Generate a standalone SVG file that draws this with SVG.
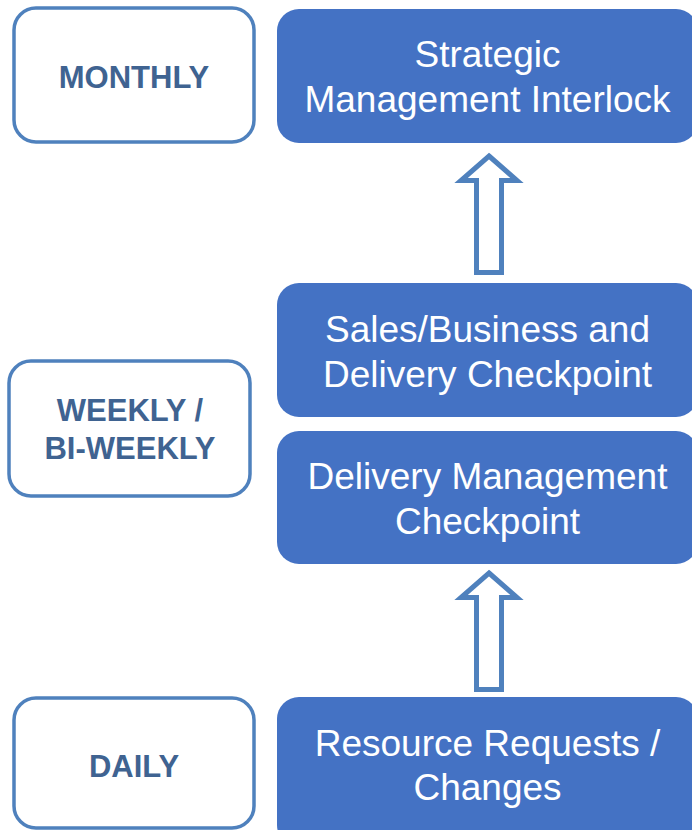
<svg xmlns="http://www.w3.org/2000/svg" width="692" height="830" viewBox="0 0 692 830">
<style>
.freq rect{fill:#ffffff;stroke:#4f81bd;stroke-width:3.5}
.freq text{font-family:"Liberation Sans",Arial,sans-serif;font-weight:bold;font-size:31px;fill:#3f6391;text-anchor:middle}
.step rect{fill:#4472c4;stroke:none}
.step text{font-family:"Liberation Sans",Arial,sans-serif;font-size:37px;fill:#ffffff;text-anchor:middle}
.arrow{fill:#ffffff;stroke:#4f81bd;stroke-width:5;stroke-linejoin:miter}
</style>
<rect width="692" height="830" fill="#ffffff"/>
<g id="monthly" class="freq">
<rect x="14" y="8" width="240" height="134" rx="22"/>
<text x="134" y="88">MONTHLY</text>
</g>
<g id="weekly" class="freq">
<rect x="9" y="361" width="241" height="135" rx="22"/>
<text x="130" y="421">WEEKLY /</text>
<text x="130" y="459">BI-WEEKLY</text>
</g>
<g id="daily" class="freq">
<rect x="14" y="698" width="240" height="130" rx="22"/>
<text x="134" y="777">DAILY</text>
</g>
<g id="strategic" class="step">
<rect x="277" y="9" width="421" height="134" rx="22"/>
<text x="487.5" y="67">Strategic</text>
<text x="487.5" y="111.5">Management Interlock</text>
</g>
<g id="sales" class="step">
<rect x="277" y="283" width="421" height="134" rx="22"/>
<text x="487.5" y="342">Sales/Business and</text>
<text x="487.5" y="386.5">Delivery Checkpoint</text>
</g>
<g id="delivery" class="step">
<rect x="277" y="431" width="421" height="133" rx="22"/>
<text x="487.5" y="489">Delivery Management</text>
<text x="487.5" y="533.5">Checkpoint</text>
</g>
<g id="resource" class="step">
<rect x="277" y="697" width="421" height="150" rx="22"/>
<text x="487.5" y="756">Resource Requests /</text>
<text x="487.5" y="800">Changes</text>
</g>
<g id="connectors">
<path class="arrow" d="M489,156 L517,180.5 L501.5,180.5 L501.5,272.5 L476.5,272.5 L476.5,180.5 L461,180.5 Z"/>
<path class="arrow" d="M489,573 L517,597.5 L501.5,597.5 L501.5,689.5 L476.5,689.5 L476.5,597.5 L461,597.5 Z"/>
</g>
</svg>
